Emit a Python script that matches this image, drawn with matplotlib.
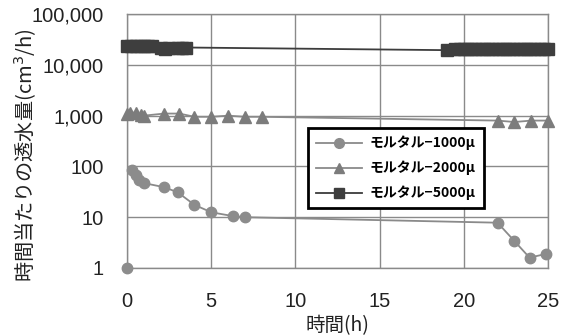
import numpy as np
import matplotlib.pyplot as plt
from matplotlib.ticker import FixedLocator, FuncFormatter

# モルタル-1000μ
t_1000 = [0, 0.3, 0.5, 0.7, 1.0, 2.2, 3.0, 4.0, 5.0, 6.3, 7.0, 22.0, 23.0, 23.9, 24.9]
q_1000 = [1, 85, 68, 54, 47, 39, 31, 17.5, 12.5, 10.5, 10, 7.8, 3.4, 1.6, 1.9]

# モルタル-2000μ
t_2000 = [0, 0.2, 0.5, 0.8, 1.0, 2.2, 3.1, 4.0, 5.0, 6.0, 7.0, 8.0, 22.0, 23.0, 24.0, 25.0]
q_2000 = [1100, 1150, 1150, 1050, 1000, 1100, 1100, 950, 950, 1000, 950, 950, 800, 750, 800, 800]

# モルタル-5000μ
t_5000 = [0, 0.25, 0.5, 0.75, 1.0, 1.25, 1.5, 2.0, 2.25, 2.5, 3.0, 3.25, 3.5,
          19.0, 19.5, 19.75, 20.0, 20.25, 20.5, 20.75, 21.0, 21.25, 21.5, 21.75,
          22.0, 22.25, 22.5, 22.75, 23.0, 23.25, 23.5, 23.75, 24.0, 24.25, 24.5, 24.75, 25.0]
q_5000 = [24000, 24000, 24000, 24000, 24000, 24000, 23500, 21500, 21000, 21500, 22000, 22000, 22000,
          19500, 21000, 21000, 21000, 21000, 21000, 21000, 21000, 21000, 21000, 21000,
          21000, 21000, 21000, 21000, 21000, 21000, 21000, 21000, 21000, 21000, 21000, 21000, 21000]

x_ticks = [0, 5, 10, 15, 20, 25]
y_ticks = [1, 10, 100, 1000, 10000, 100000]

JP = ['Noto Sans CJK JP', 'DejaVu Sans']
plt.rcParams['font.family'] = ['Liberation Sans', 'DejaVu Sans']

fig = plt.figure(figsize=(5.65, 3.36), dpi=100)
ax = fig.add_axes([0.225, 0.2024, 0.745, 0.7556])

gray_c = '#8c8c8c'
gray_t = '#7c7c7c'
dark_s = '#3e3e3e'

# first 1000μ point stands alone (no connecting line to the next one)
ax.plot(t_1000[1:], q_1000[1:], color='#8a8a8a', lw=1.3, zorder=2)
ax.plot(t_1000, q_1000, ls='none', marker='o', ms=7.5, mfc=gray_c, mec=gray_c,
        clip_on=False, zorder=3)
ax.plot(t_2000, q_2000, color='#8a8a8a', lw=1.3, marker='^', ms=9,
        mfc=gray_t, mec=gray_t, clip_on=False, zorder=3)
ax.plot(t_5000, q_5000, color='#3c3c3c', lw=1.3, marker='s', ms=9,
        mfc=dark_s, mec=dark_s, clip_on=False, zorder=3)

# legend proxies
h1, = ax.plot([], [], color='#8a8a8a', lw=1.3, marker='o', ms=7, mfc=gray_c, mec=gray_c)
h2, = ax.plot([], [], color='#8a8a8a', lw=1.3, marker='^', ms=7, mfc=gray_t, mec=gray_t)
h3, = ax.plot([], [], color='#3c3c3c', lw=1.3, marker='s', ms=7, mfc=dark_s, mec=dark_s)

ax.set_yscale('log')
ax.set_xlim(0, 25)
ax.set_ylim(1, 100000)
ax.xaxis.set_major_locator(FixedLocator(x_ticks))
ax.yaxis.set_major_locator(FixedLocator(y_ticks))
ax.yaxis.set_minor_locator(FixedLocator([]))
ax.yaxis.set_major_formatter(FuncFormatter(lambda v, p: f'{int(round(v)):,}'))
ax.tick_params(axis='both', labelsize=14.5, length=0, pad=17)
for lab in ax.get_xticklabels() + ax.get_yticklabels():
    lab.set_color('#222222')

ax.grid(True, which='major', color='#8a8a8a', lw=1.0)
ax.set_axisbelow(True)
for sp in ax.spines.values():
    sp.set_color('#8a8a8a')
    sp.set_linewidth(1.0)

ax.set_xlabel('時間(h)', family=JP, fontsize=14, color='#222222')
ax.xaxis.set_label_coords(0.5, -0.185)
ax.set_ylabel('時間当たりの透水量(cm$^3$/h)', family=JP, fontsize=14.5, color='#222222')
ax.yaxis.set_label_coords(-0.212, 0.445)

leg = ax.legend([h1, h2, h3], ['モルタル−1000μ', 'モルタル−2000μ', 'モルタル−5000μ'],
                loc='upper left', bbox_to_anchor=(0.43, 0.551),
                prop={'family': JP, 'size': 10, 'weight': 'bold'},
                frameon=True, fancybox=False, handlelength=3.3, borderpad=0.55,
                labelspacing=0.75, handletextpad=0.6, borderaxespad=0)
leg.get_frame().set_edgecolor('black')
leg.get_frame().set_linewidth(2.0)
leg.get_frame().set_alpha(1)

fig.savefig('out.png', dpi=100)
